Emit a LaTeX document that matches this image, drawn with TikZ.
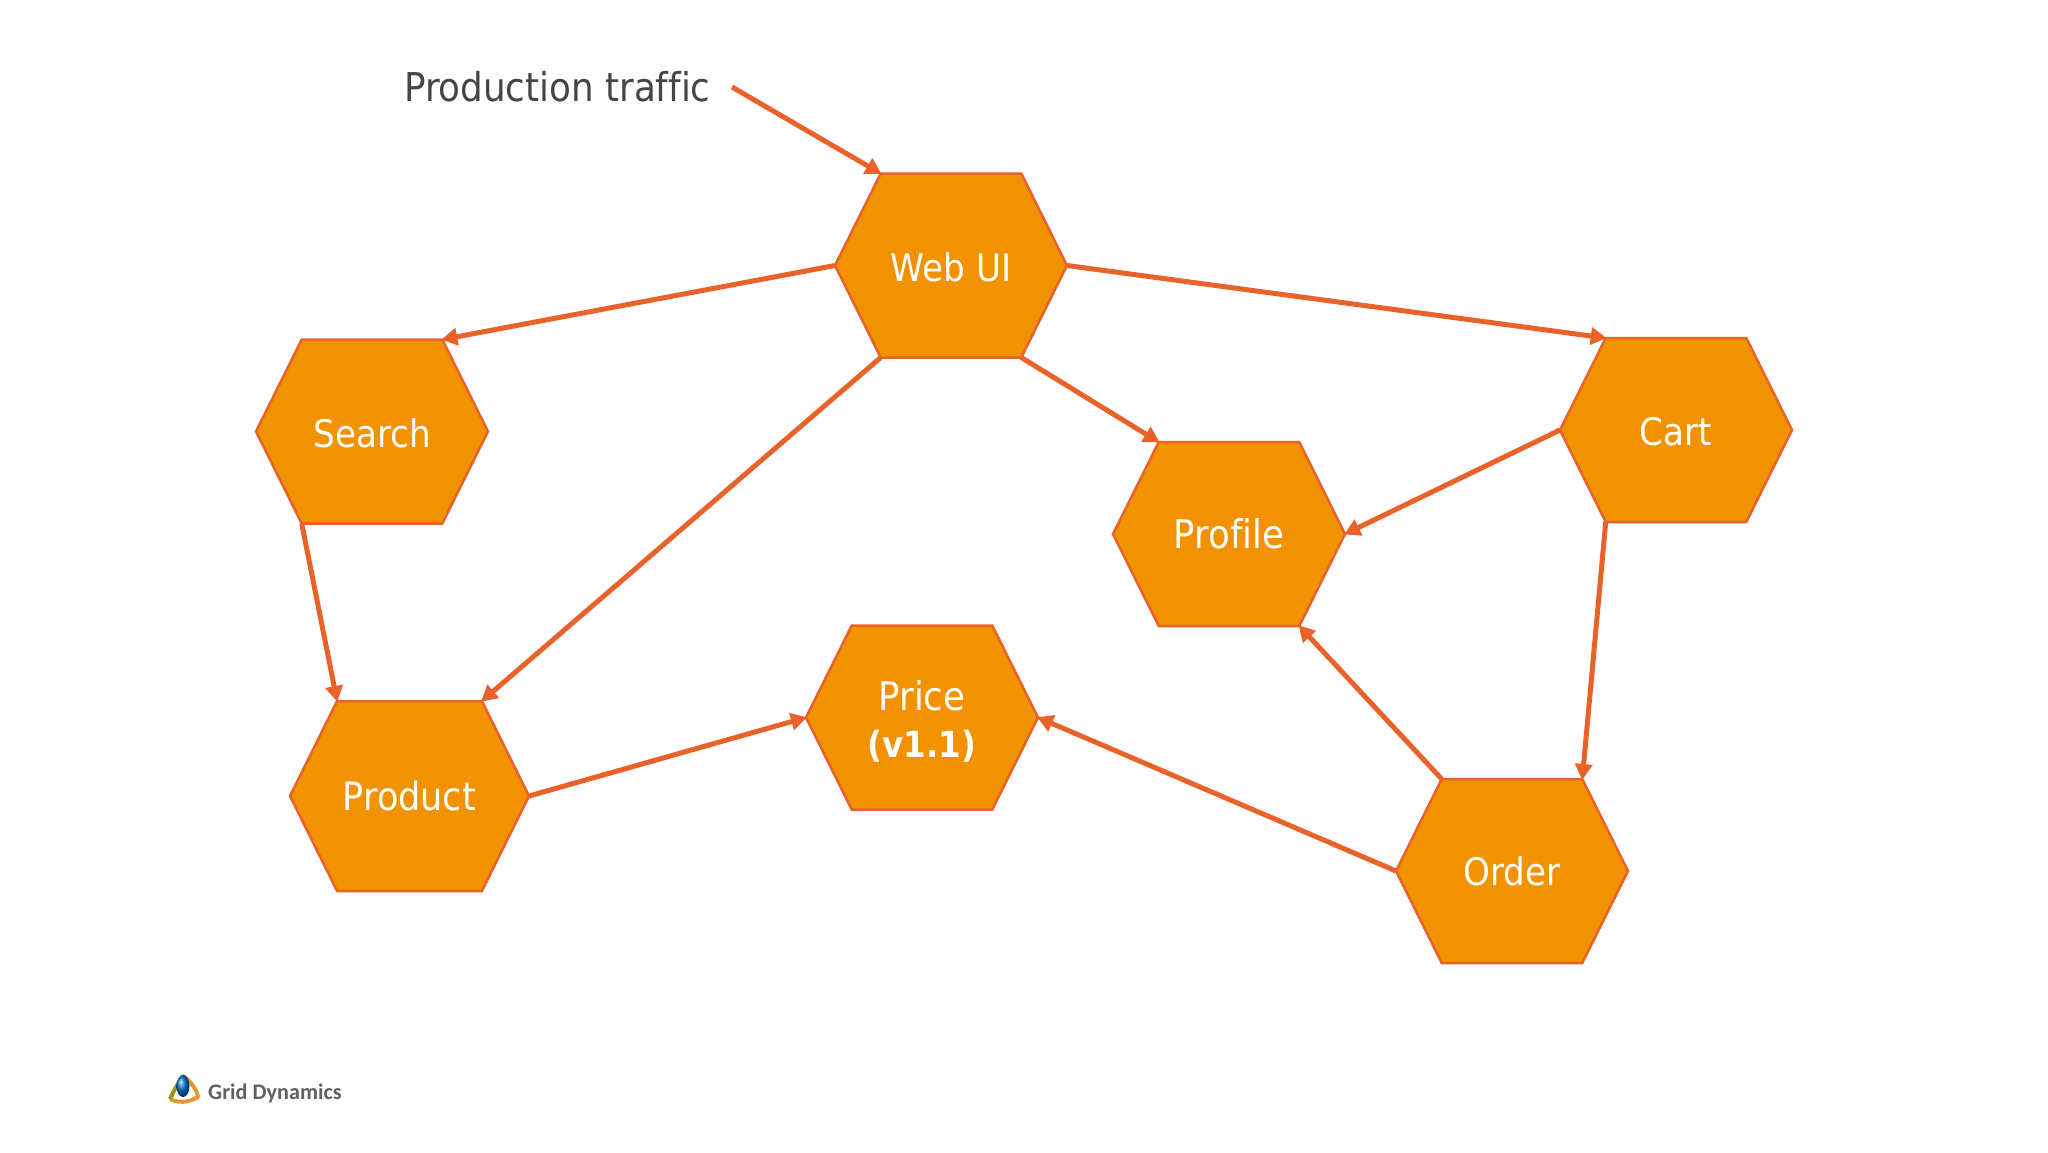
\documentclass[tikz,border=0pt]{standalone}
\usepackage{fontspec}
\setmainfont{DejaVu Sans Condensed}[Ligatures=NoCommon]
\newfontfamily\logofont{Carlito}
\usetikzlibrary{arrows.meta}
\definecolor{hexfill}{HTML}{F39200}
\definecolor{hexline}{HTML}{E8622A}
\definecolor{labelgray}{HTML}{454545}
\definecolor{logogray}{HTML}{5F5F64}
\makeatletter
\newdimen\hxa \newdimen\hxb \newdimen\hya \newdimen\hyb \newdimen\hxc \newdimen\hym \newdimen\hxl \newdimen\hxr
\pgfdeclareshape{flathex}{
  \inheritsavedanchors[from=rectangle]
  \inheritanchorborder[from=rectangle]
  \inheritanchor[from=rectangle]{center}
  \inheritanchor[from=rectangle]{mid}
  \inheritanchor[from=rectangle]{base}
  \inheritanchor[from=rectangle]{north}
  \inheritanchor[from=rectangle]{south}
  \inheritanchor[from=rectangle]{east}
  \inheritanchor[from=rectangle]{west}
  \anchor{north west}{\southwest\hxa=\pgf@x\northeast\hxb=\pgf@x\hyb=\pgf@y
    \hxc=\hxb\advance\hxc by-\hxa\hxc=0.197\hxc\advance\hxc by\hxa
    \pgfqpoint{\hxc}{\hyb}}
  \anchor{north east}{\southwest\hxa=\pgf@x\northeast\hxb=\pgf@x\hyb=\pgf@y
    \hxc=\hxb\advance\hxc by-\hxa\hxc=0.197\hxc\advance\hxb by-\hxc
    \pgfqpoint{\hxb}{\hyb}}
  \anchor{south west}{\southwest\hxa=\pgf@x\hya=\pgf@y\northeast\hxb=\pgf@x
    \hxc=\hxb\advance\hxc by-\hxa\hxc=0.197\hxc\advance\hxc by\hxa
    \pgfqpoint{\hxc}{\hya}}
  \anchor{south east}{\southwest\hxa=\pgf@x\hya=\pgf@y\northeast\hxb=\pgf@x
    \hxc=\hxb\advance\hxc by-\hxa\hxc=0.197\hxc\advance\hxb by-\hxc
    \pgfqpoint{\hxb}{\hya}}
  \backgroundpath{
    \southwest\hxa=\pgf@x\hya=\pgf@y
    \northeast\hxb=\pgf@x\hyb=\pgf@y
    \hxc=\hxb\advance\hxc by-\hxa\hxc=0.197\hxc
    \hym=\hya\advance\hym by\hyb\hym=0.5\hym
    \hxl=\hxa\advance\hxl by\hxc
    \hxr=\hxb\advance\hxr by-\hxc
    \pgfpathmoveto{\pgfqpoint{\hxa}{\hym}}
    \pgfpathlineto{\pgfqpoint{\hxl}{\hyb}}
    \pgfpathlineto{\pgfqpoint{\hxr}{\hyb}}
    \pgfpathlineto{\pgfqpoint{\hxb}{\hym}}
    \pgfpathlineto{\pgfqpoint{\hxr}{\hya}}
    \pgfpathlineto{\pgfqpoint{\hxl}{\hya}}
    \pgfpathclose
  }
}
\makeatother
\tikzset{
  hex/.style={shape=flathex, draw=hexline, fill=hexfill, line width=2.5pt,
    minimum width=232pt, minimum height=184pt, inner sep=0pt, outer sep=0pt,
    text=white, font=\fontsize{38}{47}\selectfont, align=center},
  link/.style={draw=hexline, line width=5pt,
    -{Triangle[length=16pt,width=17pt]}, shorten >=-1pt},
  caption/.style={font=\fontsize{39.7}{46}\selectfont, text=labelgray, inner sep=0pt, anchor=base west},
  logotext/.style={font=\logofont\bfseries\fontsize{22.2}{28}\selectfont, text=logogray, inner sep=0pt, anchor=base west}
}
\begin{document}
\begin{tikzpicture}[x=1pt,y=-1pt]
\useasboundingbox (0,0) rectangle (2048,1152);
\fill[white] (0,0) rectangle (2048,1152);
\node[hex] (web) at (951,265.5) {\rule{0pt}{32pt}Web UI};
\node[hex] (search) at (372,431.5) {\rule{0pt}{32pt}Search};
\node[hex] (cart) at (1676,430) {\rule{0pt}{32pt}Cart};
\node[hex] (profile) at (1229,534) {\fontsize{39.5}{47}\selectfont Profile};
\node[hex] (price) at (922,717.5) {\rule{0pt}{37pt}\fontsize{39.5}{47}\selectfont Price\\\fontsize{36}{47}\selectfont\textbf{(v1.1)}};
\node[hex, minimum width=239pt, minimum height=190pt] (product) at (409.5,796) {\fontsize{39}{47}\selectfont Product};
\node[hex] (order) at (1512,871) {Order};
\node[caption] (traffic) at (404,101) {Production traffic};
\coordinate (trafficstart) at (732,87);
\draw[link] (trafficstart) -- (web.north west);
\draw[link] (web.west) -- (search.north east);
\draw[link] (web.east) -- (cart.north west);
\draw[link] (web.south west) -- (product.north east);
\draw[link] (web.south east) -- (profile.north west);
\draw[link] (search.south west) -- (product.north west);
\draw[link] (cart.west) -- (profile.east);
\draw[link] (cart.south west) -- (order.north east);
\draw[link] (order.north west) -- (profile.south east);
\draw[link] (order.west) -- (price.east);
\draw[link] (product.east) -- (price.west);
% logo
\draw[line width=4pt, draw=orange!70!olive, line join=round, opacity=0.8]
  (170,1099) .. controls (176,1086) and (180,1080) .. (183,1076)
  .. controls (190,1080) and (197,1090) .. (198,1097)
  .. controls (188,1103) and (178,1103) .. (170,1099);
\draw[line width=3.5pt, draw=olive!70!green, opacity=0.8] (170,1099) .. controls (173,1092) and (176,1087) .. (179,1083);
\shade[ball color=blue!45!cyan!85!black] (183,1086) ellipse [x radius=6.5pt, y radius=11pt];
\node[logotext] (logo) at (208,1099.5) {Grid Dynamics};
\end{tikzpicture}
\end{document}
